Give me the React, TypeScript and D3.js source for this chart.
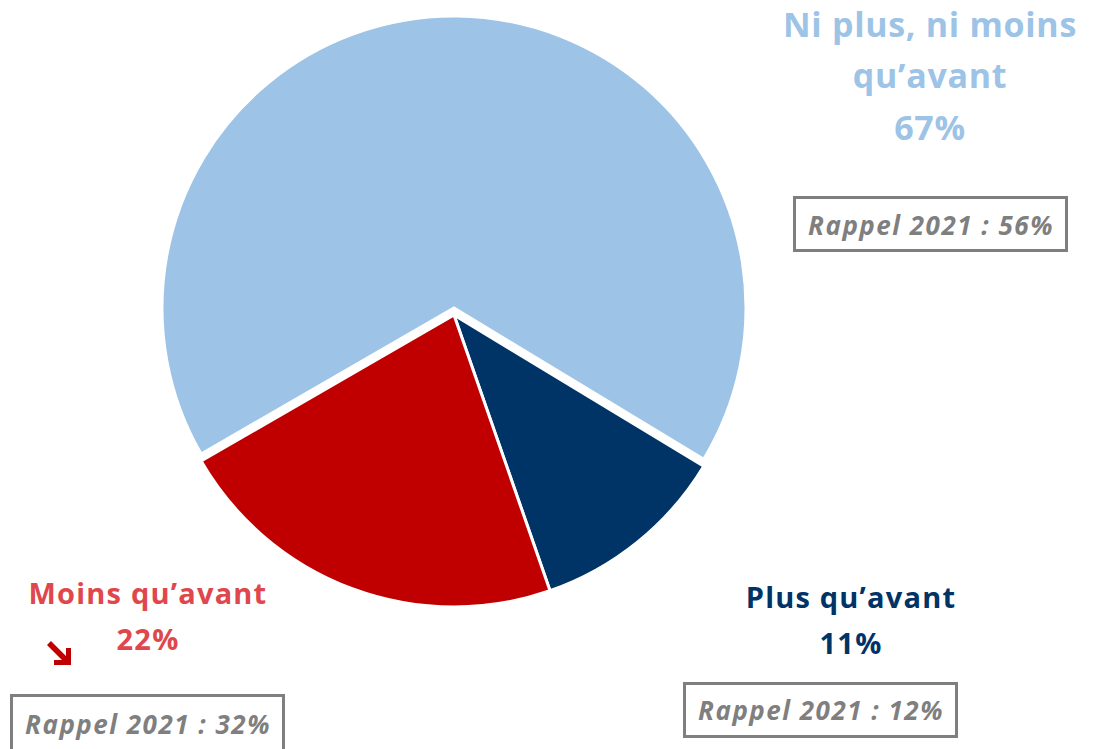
import React from "react";
import * as d3 from "d3";

const categories = ["Ni plus, ni moins qu’avant", "Plus qu’avant", "Moins qu’avant"];
const values = [67, 11, 22];
const recall = ["Rappel 2021 : 56%", "Rappel 2021 : 12%", "Rappel 2021 : 32%"];
const colors = ["#9DC3E6", "#003366", "#C00000"];
const labelColors = ["#9DC3E6", "#003366", "#E0474C"];

const W = 1103, H = 749;
const cx = 454, cy = 315, R = 292;

export default function App() {
  const pie = d3.pie<number>().sort(null).startAngle(-Math.PI * 2 / 3).endAngle(Math.PI * 4 / 3 )(values);
  const arc = d3.arc<d3.PieArcDatum<number>>().innerRadius(0).outerRadius(R);
  const font = "'Open Sans', sans-serif";
  const gray = "#7F7F7F";
  return (
    <svg width={W} height={H} style={{ position: "absolute", left: 0, top: 0 }}>
      <rect width={W} height={H} fill="#fff" />
      <g transform={`translate(${cx},${cy})`}>
        {pie.map((d, i) => (
          <path key={i} d={arc(d) || ""} fill={colors[i]} stroke="#fff" strokeWidth={3}
            transform={i === 0 ? "translate(0,-7)" : undefined} strokeLinejoin="miter" />
        ))}
      </g>
      <g fontFamily={font} fontWeight={700} textAnchor="middle" fontSize={34} letterSpacing={0.7}>
        <text x={930} y={37} fill={labelColors[0]}>Ni plus, ni moins</text>
        <text x={930} y={88} fill={labelColors[0]}>qu’avant</text>
        <text x={930} y={140} fill={labelColors[0]}>{values[0]}%</text>
      </g>
      <g fontFamily={font} fontWeight={700} textAnchor="middle" fontSize={29} letterSpacing={1.2}>
        <text x={851} y={608} fill={labelColors[1]}>Plus qu’avant</text>
        <text x={851} y={654} fill={labelColors[1]}>{values[1]}%</text>
        <text x={148} y={604} fill={labelColors[2]}>Moins qu’avant</text>
        <text x={148} y={650} fill={labelColors[2]}>{values[2]}%</text>
      </g>
      <g fontFamily={font} fontWeight={700} fontStyle="italic" textAnchor="middle" fontSize={26} letterSpacing={1.5} fill={gray}>
        <rect x={794.5} y={197.5} width={272} height={53} fill="#fff" stroke={gray} strokeWidth={3} />
        <text x={931} y={235}>{recall[0]}</text>
        <rect x={684.5} y={683.5} width={272} height={53} fill="#fff" stroke={gray} strokeWidth={3} />
        <text x={821} y={720}>{recall[1]}</text>
        <rect x={11.5} y={695.5} width={272} height={60} fill="#fff" stroke={gray} strokeWidth={3} />
        <text x={148} y={734}>{recall[2]}</text>
      </g>
      <g fill="#C00000">
        <path d="M47,645 L51,641 L66,656 L66,648 L71,648 L71,665 L54,665 L54,660 L62,660 Z" />
      </g>
    </svg>
  );
}
